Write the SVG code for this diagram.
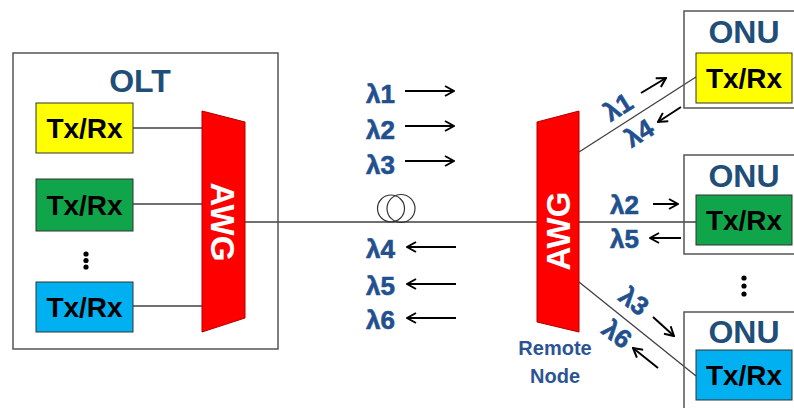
<svg xmlns="http://www.w3.org/2000/svg" width="794" height="408" viewBox="0 0 794 408">
<defs>
<marker id="ah" viewBox="0 0 12 12" refX="11" refY="6" markerWidth="12" markerHeight="12" markerUnits="userSpaceOnUse" orient="auto">
<path d="M2,1 L11,6 L2,11" fill="none" stroke="#000" stroke-width="2" stroke-linejoin="miter"/>
</marker>
<style>
.frame{fill:none;stroke:#555;stroke-width:1.5}
.trx{stroke:#333;stroke-width:1}
.trxt{font-family:"Liberation Sans",Arial,sans-serif;font-weight:bold;font-size:28px;fill:#000;text-anchor:middle}
.title{font-family:"Liberation Sans",Arial,sans-serif;font-weight:bold;font-size:32px;fill:#1F4E79;text-anchor:middle}
.lam{font-family:"Liberation Sans",Arial,sans-serif;font-weight:bold;font-size:26px;fill:#22508F;stroke:#22508F;stroke-width:0.6}
.awg{fill:#FF0000;stroke:#B00000;stroke-width:1}
.awgt{font-family:"Liberation Sans",Arial,sans-serif;font-weight:bold;font-size:33px;fill:#fff;text-anchor:middle}
.ln{stroke:#404040;stroke-width:1.3;fill:none}
.arr{stroke:#000;stroke-width:2;fill:none;marker-end:url(#ah)}
.rn{font-family:"Liberation Sans",Arial,sans-serif;font-weight:bold;font-size:20px;fill:#2B5494;text-anchor:middle}
</style>
</defs>
<rect width="794" height="408" fill="#fff"/>

<g id="connectors">
<line class="ln" x1="133" y1="128" x2="203" y2="128"/>
<line class="ln" x1="133" y1="204" x2="203" y2="204"/>
<line class="ln" x1="133" y1="306" x2="203" y2="306"/>
<line class="ln" x1="245" y1="222" x2="537" y2="222"/>
<line class="ln" x1="579" y1="152" x2="696" y2="77"/>
<line class="ln" x1="579" y1="222" x2="696" y2="222"/>
<line class="ln" x1="579" y1="282" x2="696" y2="376"/>
</g>

<g id="OLT">
<rect class="frame" x="13" y="53" width="265" height="296"/>
<text class="title" x="140" y="92">OLT</text>
<g id="OLT-trx1"><rect class="trx" x="36" y="103" width="97" height="50" fill="#FFFF00"/><text class="trxt" x="84.5" y="138">Tx/Rx</text></g>
<g id="OLT-trx2"><rect class="trx" x="36" y="179" width="97" height="52" fill="#10A54A"/><text class="trxt" x="84.5" y="215">Tx/Rx</text></g>
<g id="OLT-dots" fill="#000"><circle cx="86" cy="254" r="2.6"/><circle cx="86" cy="260.5" r="2.6"/><circle cx="86" cy="267" r="2.6"/></g>
<g id="OLT-trx3"><rect class="trx" x="36" y="282" width="97" height="50" fill="#00B0F0"/><text class="trxt" x="84.5" y="317">Tx/Rx</text></g>
</g>

<g id="AWG-OLT">
<polygon class="awg" points="202,111 245,122 245,318 202,332"/>
<text class="awgt" transform="translate(223,222) rotate(90)" y="12">AWG</text>
</g>

<g id="fiber-coil" fill="none" stroke="#333" stroke-width="1.2">
<circle cx="391" cy="208.5" r="13.5"/>
<circle cx="401" cy="208.5" r="14"/>
</g>

<g id="wavelengths">
<text class="lam" x="366" y="103">λ1</text>
<line class="arr" x1="405" y1="91" x2="454" y2="91"/>
<text class="lam" x="366" y="139">λ2</text>
<line class="arr" x1="405" y1="126" x2="454" y2="126"/>
<text class="lam" x="366" y="174">λ3</text>
<line class="arr" x1="405" y1="161" x2="454" y2="161"/>
<text class="lam" x="366" y="258">λ4</text>
<line class="arr" x1="456" y1="247" x2="407" y2="247"/>
<text class="lam" x="366" y="295">λ5</text>
<line class="arr" x1="456" y1="284" x2="407" y2="284"/>
<text class="lam" x="366" y="329">λ6</text>
<line class="arr" x1="456" y1="318" x2="407" y2="318"/>
</g>

<g id="AWG-remote">
<polygon class="awg" points="537,122 579,111 579,332 537,322"/>
<text class="awgt" transform="translate(558,231) rotate(-90)" y="12">AWG</text>
<text class="rn" x="555" y="355">Remote</text>
<text class="rn" x="555" y="383">Node</text>
</g>

<g id="ONU1">
<rect class="frame" x="684" y="11" width="120" height="97"/>
<text class="title" x="744" y="43">ONU</text>
<rect class="trx" x="696" y="53" width="96" height="50" fill="#FFFF00"/>
<text class="trxt" x="744" y="88">Tx/Rx</text>
</g>

<g id="ONU2">
<rect class="frame" x="684" y="155" width="120" height="99"/>
<text class="title" x="744" y="187">ONU</text>
<rect class="trx" x="696" y="195" width="96" height="50" fill="#10A54A"/>
<text class="trxt" x="744" y="230">Tx/Rx</text>
</g>

<g id="ONU-dots" fill="#000"><circle cx="744" cy="278" r="2.6"/><circle cx="744" cy="286" r="2.6"/><circle cx="744" cy="294" r="2.6"/></g>

<g id="ONU3">
<rect class="frame" x="684" y="312" width="120" height="110"/>
<text class="title" x="744" y="343">ONU</text>
<rect class="trx" x="696" y="350" width="96" height="50" fill="#00B0F0"/>
<text class="trxt" x="744" y="385">Tx/Rx</text>
</g>

<g id="onu-wavelengths">
<text class="lam" text-anchor="middle" transform="translate(618,107) rotate(-32)" y="9">λ1</text>
<line class="arr" x1="641" y1="93" x2="666" y2="78"/>
<text class="lam" text-anchor="middle" transform="translate(639,133) rotate(-32)" y="9">λ4</text>
<line class="arr" x1="681" y1="107" x2="658" y2="122"/>
<text class="lam" x="610" y="214">λ2</text>
<line class="arr" x1="653" y1="204" x2="678" y2="204"/>
<text class="lam" x="610" y="248">λ5</text>
<line class="arr" x1="681" y1="238" x2="650" y2="238"/>
<text class="lam" text-anchor="middle" transform="translate(634,301) rotate(38)" y="9">λ3</text>
<line class="arr" x1="653" y1="317" x2="674" y2="336"/>
<text class="lam" text-anchor="middle" transform="translate(617,334) rotate(38)" y="9">λ6</text>
<line class="arr" x1="658" y1="368" x2="633" y2="348"/>
</g>
</svg>
